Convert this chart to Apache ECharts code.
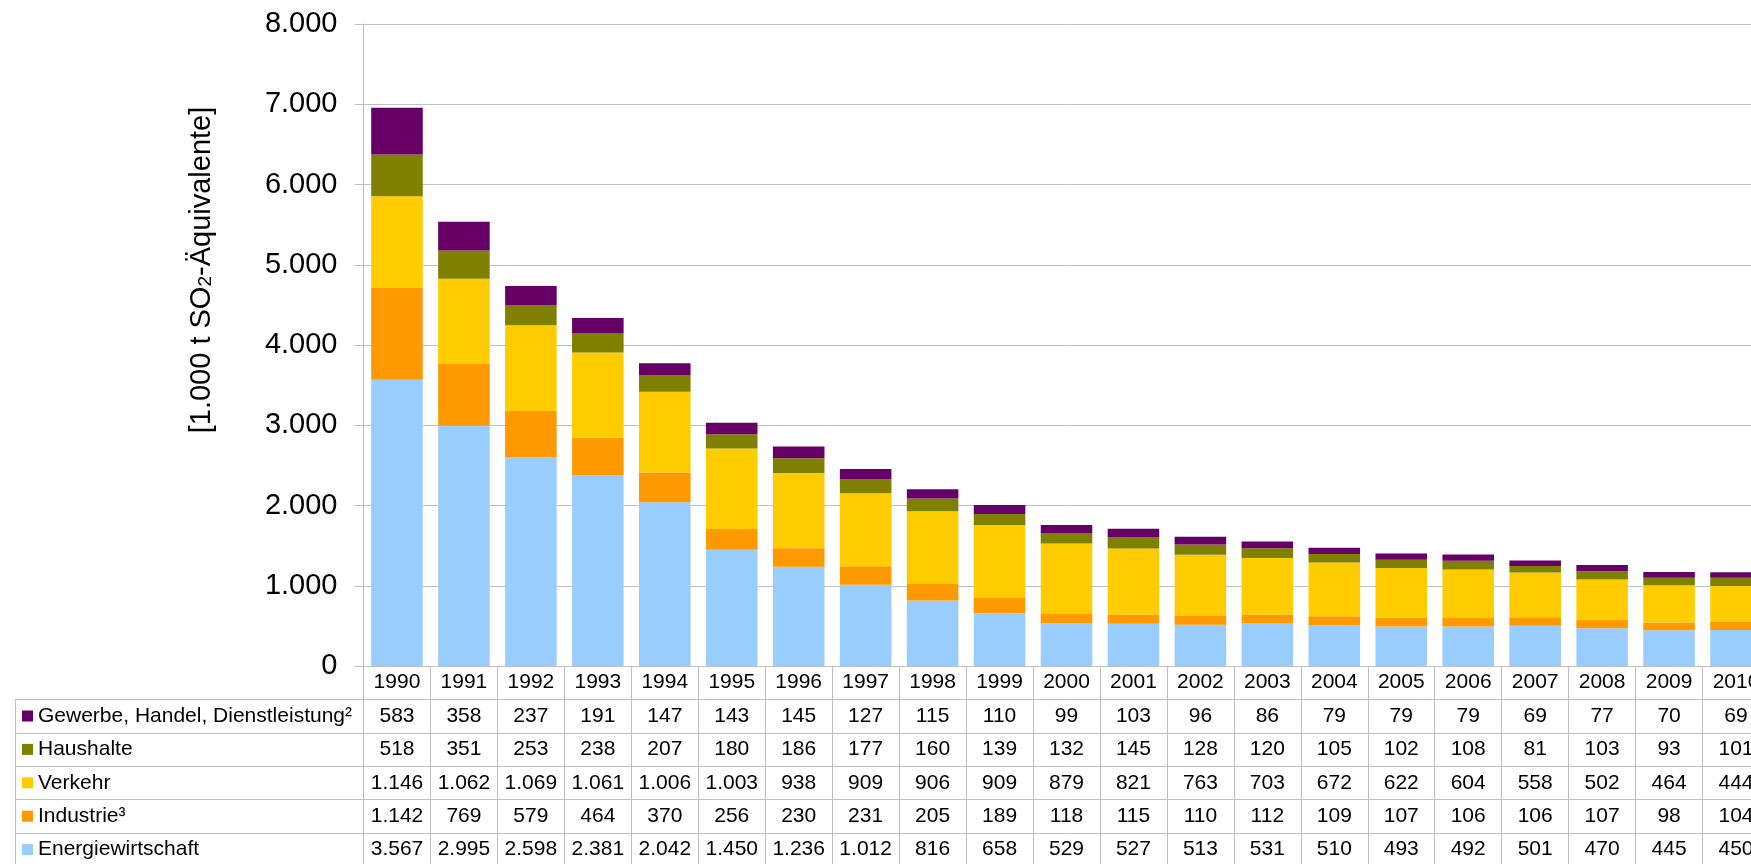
<!DOCTYPE html>
<html>
<head>
<meta charset="utf-8">
<script src="https://cdn.jsdelivr.net/npm/echarts@6/dist/echarts.min.js"></script>
<style>
html,body{margin:0;padding:0;background:#fff;overflow:hidden;width:1751px;height:864px;}
#c{width:1790px;height:864px;}
</style>
</head>
<body>
<div id="c"></div>
<script>
const years = ['1990','1991','1992','1993','1994','1995','1996','1997','1998','1999','2000','2001','2002','2003','2004','2005','2006','2007','2008','2009','2010'];
const gewerbe = [583,358,237,191,147,143,145,127,115,110,99,103,96,86,79,79,79,69,77,70,69];
const haushalte = [518,351,253,238,207,180,186,177,160,139,132,145,128,120,105,102,108,81,103,93,101];
const verkehr = [1146,1062,1069,1061,1006,1003,938,909,906,909,879,821,763,703,672,622,604,558,502,464,444];
const industrie = [1142,769,579,464,370,256,230,231,205,189,118,115,110,112,109,107,106,106,107,98,104];
const energie = [3567,2995,2598,2381,2042,1450,1236,1012,816,658,529,527,513,531,510,493,492,501,470,445,450];
const yTicks = [0,1000,2000,3000,4000,5000,6000,7000,8000];

const names = ['Gewerbe, Handel, Dienstleistung²','Haushalte','Verkehr','Industrie³','Energiewirtschaft'];
const colors = ['#660066','#808000','#FFCC00','#FF9900','#99CCFF'];
const tableRows = [gewerbe, haushalte, verkehr, industrie, energie];

const FONT = 'Liberation Sans, Arial, sans-serif';
const LINE = '#c0c0c0';
const ROW = 33.4;
const TFS = 21;
const fmt = v => String(v).replace(/\B(?=(\d{3})+(?!\d))/g, '.');

const chart = echarts.init(document.getElementById('c'));

const xAxes = [];
// header row with years
xAxes.push({
  type:'category', gridIndex:0, data:years, position:'bottom', offset:0,
  boundaryGap:true,
  axisLine:{show:true, lineStyle:{color:LINE, width:1}},
  axisTick:{show:true, length:ROW, interval:0, alignWithLabel:false, lineStyle:{color:LINE}},
  axisLabel:{show:true, interval:0, margin:ROW/2, verticalAlign:'middle', fontSize:TFS, fontFamily:FONT, color:'#000'}
});
tableRows.forEach((arr, k) => {
  xAxes.push({
    type:'category', gridIndex:0, data:years, position:'bottom', offset:ROW*(k+1),
    boundaryGap:true,
    axisLine:{show:true, lineStyle:{color:LINE, width:1}},
    axisTick:{show:true, length:ROW, interval:0, alignWithLabel:false, lineStyle:{color:LINE}},
    axisLabel:{show:true, interval:0, margin:ROW/2, verticalAlign:'middle', fontSize:TFS, fontFamily:FONT, color:'#000',
      formatter:(v, i) => fmt(arr[i])}
  });
});
// label column of the table (grid 1 ends at the top of the first data row)
tableRows.forEach((arr, k) => {
  xAxes.push({
    type:'category', gridIndex:1, data:[''], position:'bottom', offset:ROW*k,
    boundaryGap:true,
    axisLine:{show:true, lineStyle:{color:LINE, width:1}},
    axisTick:{show:true, length:ROW, interval:0, alignWithLabel:false, lineStyle:{color:LINE}},
    axisLabel:{show:false}
  });
});

const stackOrder = [4,3,2,1,0];
const series = stackOrder.map(i => ({
  name:names[i], type:'bar', stack:'s', xAxisIndex:0, yAxisIndex:0,
  data:tableRows[i], barCategoryGap:'23%',
  itemStyle:{color:colors[i]}
}));

chart.setOption({
  animation:false,
  backgroundColor:'#fff',
  grid:[
    {left:363.5, right:20.5, top:24, bottom:198},
    {left:15, width:348.5, top:640, bottom:864-666-ROW}
  ],
  legend:{
    data:names, orient:'vertical', left:22, top:705, padding:0,
    itemWidth:11, itemHeight:11, itemGap:ROW-22,
    icon:'rect', selectedMode:false,
    textStyle:{fontSize:TFS, fontFamily:FONT, color:'#000', lineHeight:22}
  },
  xAxis:xAxes,
  yAxis:[
    {type:'value', gridIndex:0, min:yTicks[0], max:yTicks[yTicks.length-1], interval:1000,
     axisLine:{show:true, lineStyle:{color:LINE}},
     axisTick:{show:true, length:9, lineStyle:{color:LINE}},
     splitLine:{show:true, lineStyle:{color:LINE}},
     axisLabel:{margin:26, fontSize:29, fontFamily:FONT, color:'#000', formatter:v => fmt(v)}},
    {type:'value', gridIndex:1, show:false}
  ],
  graphic:[{
    type:'text', x:202, y:270, rotation:Math.PI/2,
    style:{
      text:'[1.000 t SO{sub|2}-Äquivalente]',
      rich:{sub:{fontSize:19, fontFamily:FONT, fill:'#000', padding:[8,0,0,0]}},
      fontSize:29, fontFamily:FONT, fill:'#000', align:'center', verticalAlign:'middle'
    }
  }],
  series:series
});
</script>
</body>
</html>
